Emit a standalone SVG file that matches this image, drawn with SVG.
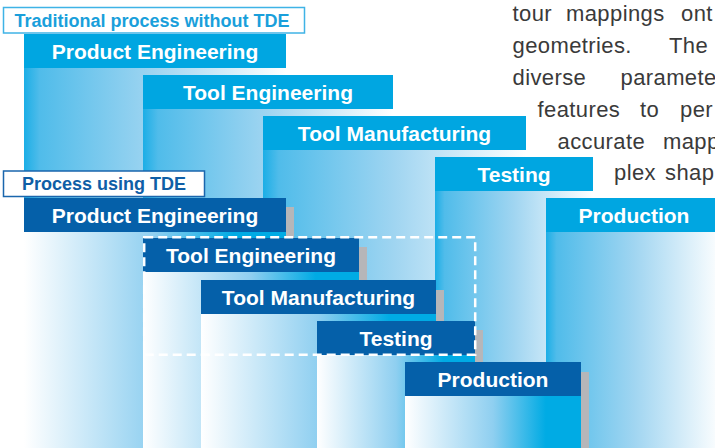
<svg xmlns="http://www.w3.org/2000/svg" width="715" height="448" viewBox="0 0 715 448">
  <defs>
    <!-- traditional stage columns: saturated blue on the left, fading to white -->
    <linearGradient id="gradTrad" x1="0" y1="0" x2="1" y2="0">
      <stop offset="0" stop-color="#1caee6"/>
      <stop offset="0.06" stop-color="#50bcea"/>
      <stop offset="0.5" stop-color="#a0d5f1"/>
      <stop offset="1" stop-color="#ffffff"/>
    </linearGradient>
    <!-- TDE stage columns: white on the left, building up to blue -->
    <linearGradient id="gradTde" x1="0" y1="0" x2="1" y2="0">
      <stop offset="0" stop-color="#ffffff"/>
      <stop offset="0.5" stop-color="#8fcff0"/>
      <stop offset="0.8" stop-color="#00abe4"/>
      <stop offset="1" stop-color="#00abe4"/>
    </linearGradient>
    <style>
      .col-trad { fill: url(#gradTrad); }
      .col-tde { fill: url(#gradTde); }
      .hdr-trad { fill: #00a6e1; }
      .hdr-tde { fill: #0560a9; }
      .shadow { fill: #b6b6b9; }
      .hdr-text { font-family: "Liberation Sans", Arial, sans-serif; font-weight: bold; font-size: 21px; fill: #ffffff; text-anchor: middle; }
      .lbl-box-trad { fill: #ffffff; stroke: #3fb3e6; stroke-width: 1.5; }
      .lbl-box-tde { fill: #ffffff; stroke: #1a66ad; stroke-width: 1.5; }
      .lbl-text { font-family: "Liberation Sans", Arial, sans-serif; font-weight: bold; font-size: 18px; text-anchor: middle; }
      .lbl-trad { fill: #1a9fdb; }
      .lbl-tde { fill: #0f5ea6; }
      .para { font-family: "Liberation Sans", Arial, sans-serif; font-size: 22px; letter-spacing: 0.4px; fill: #3a3a3a; }
      .group-frame { fill: none; stroke: #ffffff; stroke-width: 2.5; stroke-dasharray: 9 5; }
    </style>
  </defs>

  <rect x="0" y="0" width="715" height="448" fill="#ffffff"/>

  <!-- Traditional process stages -->
  <g id="trad-product-engineering">
    <rect class="col-trad" x="24" y="34" width="262" height="414"/>
    <rect class="hdr-trad" x="24" y="34" width="262" height="34"/>
    <text class="hdr-text" x="155" y="58.5">Product Engineering</text>
  </g>
  <g id="trad-tool-engineering">
    <rect class="col-trad" x="143" y="75" width="250" height="373"/>
    <rect class="hdr-trad" x="143" y="75" width="250" height="34"/>
    <text class="hdr-text" x="268" y="99.5">Tool Engineering</text>
  </g>
  <g id="trad-tool-manufacturing">
    <rect class="col-trad" x="263" y="116" width="263" height="332"/>
    <rect class="hdr-trad" x="263" y="116" width="263" height="34"/>
    <text class="hdr-text" x="394.5" y="140.5">Tool Manufacturing</text>
  </g>
  <g id="trad-testing">
    <rect class="col-trad" x="435" y="157" width="158" height="291"/>
    <rect class="hdr-trad" x="435" y="157" width="158" height="34"/>
    <text class="hdr-text" x="514" y="181.5">Testing</text>
  </g>
  <g id="trad-production">
    <rect class="col-trad" x="546" y="198" width="176" height="250"/>
    <rect class="hdr-trad" x="546" y="198" width="176" height="34"/>
    <text class="hdr-text" x="634" y="222.5">Production</text>
  </g>

  <!-- Section labels -->
  <g id="label-traditional">
    <rect class="lbl-box-trad" x="3.5" y="7.5" width="301" height="25.5"/>
    <text class="lbl-text lbl-trad" x="152" y="26.5">Traditional process without TDE</text>
  </g>
  <g id="label-tde">
    <rect class="lbl-box-tde" x="3.5" y="171" width="201" height="25.5"/>
    <text class="lbl-text lbl-tde" x="104" y="189.5">Process using TDE</text>
  </g>

  <!-- Process stages using TDE -->
  <g id="tde-product-engineering">
    <rect class="shadow" x="32" y="207" width="262" height="241"/>
    <rect class="col-tde" x="24" y="198" width="262" height="250"/>
    <rect class="hdr-tde" x="24" y="198" width="262" height="34"/>
    <text class="hdr-text" x="155" y="222.5">Product Engineering</text>
  </g>
  <g id="tde-tool-engineering">
    <rect class="shadow" x="151" y="247" width="216" height="201"/>
    <rect class="col-tde" x="143" y="238" width="216" height="210"/>
    <rect class="hdr-tde" x="143" y="238" width="216" height="34"/>
    <text class="hdr-text" x="251" y="262.5">Tool Engineering</text>
  </g>
  <g id="tde-tool-manufacturing">
    <rect class="shadow" x="209" y="290" width="235" height="158"/>
    <rect class="col-tde" x="201" y="280" width="235" height="168"/>
    <rect class="hdr-tde" x="201" y="280" width="235" height="34"/>
    <text class="hdr-text" x="318.5" y="304.5">Tool Manufacturing</text>
  </g>
  <g id="tde-testing">
    <rect class="shadow" x="325" y="330" width="158" height="118"/>
    <rect class="col-tde" x="317" y="321" width="158" height="127"/>
    <rect class="hdr-tde" x="317" y="321" width="158" height="34"/>
    <text class="hdr-text" x="396" y="345.5">Testing</text>
  </g>
  <g id="tde-production">
    <rect class="shadow" x="413" y="372" width="176" height="76"/>
    <rect class="col-tde" x="405" y="362" width="176" height="86"/>
    <rect class="hdr-tde" x="405" y="362" width="176" height="34"/>
    <text class="hdr-text" x="493" y="386.5">Production</text>
  </g>

  <!-- Dashed frame around the stages merged by TDE -->
  <g id="connectors">
    <rect class="group-frame" x="144.2" y="237.3" width="331" height="117.5"/>
  </g>

  <!-- Running body text beside the chart -->
  <g id="body-text" class="para">
    <text x="512.5" y="21">tour</text>
    <text x="566" y="21">mappings</text>
    <text x="681" y="21">ont</text>
    <text x="512.5" y="53">geometries.</text>
    <text x="669" y="53">The</text>
    <text x="512.5" y="85">diverse</text>
    <text x="620.5" y="85">paramete</text>
    <text x="537.5" y="117">features</text>
    <text x="640" y="117">to</text>
    <text x="680" y="117">per</text>
    <text x="557.5" y="148.5">accurate</text>
    <text x="663" y="148.5">mapp</text>
    <text x="614" y="180">plex</text>
    <text x="665" y="180">shap</text>
  </g>
</svg>
